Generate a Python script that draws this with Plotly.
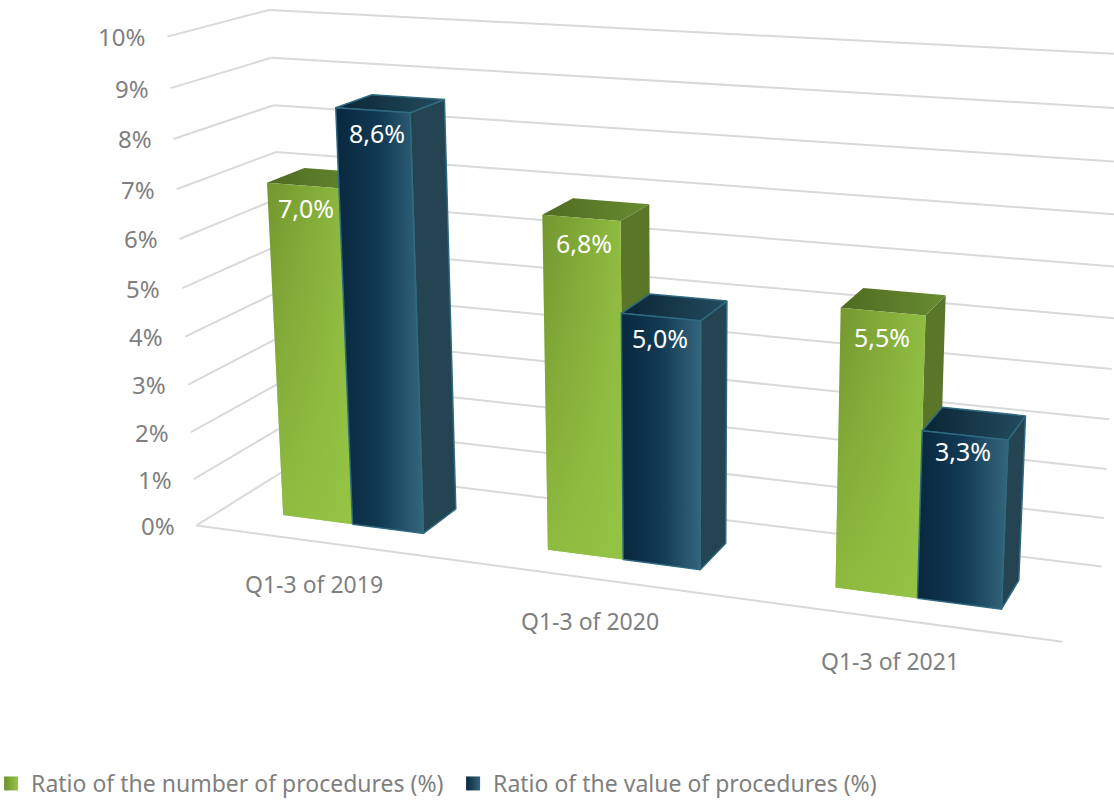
import numpy as np
import plotly.graph_objects as go

categories = ["Q1-3 of 2019", "Q1-3 of 2020", "Q1-3 of 2021"]
series_names = ["Ratio of the number of procedures (%)", "Ratio of the value of procedures (%)"]
number_ratio = [7.0, 6.8, 5.5]
value_ratio = [8.6, 5.0, 3.3]
tick_values = [0, 1, 2, 3, 4, 5, 6, 7, 8, 9, 10]
tick_labels = ["0%", "1%", "2%", "3%", "4%", "5%", "6%", "7%", "8%", "9%", "10%"]
AXIS_MAX = 10

# Calibration of the oblique 3D view: box corners (across, depth, height) -> page pixels
CAL_WORLD = [(0,0,0),(0,0,1),(0,1,1),(0,1,0),(1,0,0),(1,1,0),(1,1,1),(1,1,.3),(0,1,.7),(0,0,.7),(0,0,.1)]
CAL_PX = [(195,526),(170,37),(267,10),(294,465),(1063,640),(1101,568),(1128,54),(1109,420),(275,152),(177,189),(192,480)]
# Small pixel nudges of the value labels, per series and category
LABEL_NUDGE = [[(3,-3),(3,0),(-1,0)], [(4,-2),(-1,-4),(-2,-9)]]

def dlt(W, I):
    A = []
    for (X,Y,Z),(x,y) in zip(W,I):
        A.append([X,Y,Z,1,0,0,0,0,-x*X,-x*Y,-x*Z,-x])
        A.append([0,0,0,0,X,Y,Z,1,-y*X,-y*Y,-y*Z,-y])
    return np.linalg.svd(np.array(A,float))[2][-1].reshape(3,4)
P = dlt(CAL_WORLD, CAL_PX)
def proj(u,v,w):
    q = P @ np.array([u,v,w,1.0])
    return q[0]/q[2], q[1]/q[2]

BAR_W = 0.09; V0, V1 = 0.29, 0.68
centers = [1/6, 1/2, 5/6]
fig = go.Figure()
def poly(pts, **kw):
    xs,ys = zip(*pts)
    fig.add_trace(go.Scatter(x=list(xs)+[xs[0]], y=list(ys)+[ys[0]], mode="lines", fill="toself", hoverinfo="skip", showlegend=False, **kw))
def grad(cs, kind="horizontal"):
    n=len(cs)-1
    return dict(type=kind, colorscale=[[i/n,c] for i,c in enumerate(cs)])
gx,gy=[],[]
lx,ly=[],[]
for t in tick_values:
    w=t/AXIS_MAX
    for a,b,X,Y in ((proj(0,0,w),proj(0,1,w),lx,ly),(proj(0,1,w),proj(1,1,w),gx,gy)):
        X+= [a[0],b[0],None]; Y+=[a[1],b[1],None]
a,b=proj(0,0,0),proj(1,0,0); lx+=[a[0],b[0]]; ly+=[a[1],b[1]]
for X,Y in ((gx,gy),(lx,ly)):
    fig.add_trace(go.Scatter(x=X,y=Y,mode="lines",line=dict(color="#d9d9d9",width=2),hoverinfo="skip",showlegend=False))
styles=[dict(front=["#74962f","#8fbc41"],top=["#4f6b22","#698c31"],side="#5a7729",edge="rgba(0,0,0,0)"),
        dict(front=["#08283d","#123a54","#34667b"],top=["#0a2535","#234c5e"],side="#234450",edge="#2f6a80")]
ann=[]
for i,c in enumerate(centers):
    for s,(vals,st) in enumerate(zip((number_ratio,value_ratio),styles)):
        u0=c-BAR_W+s*BAR_W; u1=u0+BAR_W; w=vals[i]/AXIS_MAX
        line=dict(color=st["edge"],width=1.5)
        poly([proj(u1,V0,0),proj(u1,V1,0),proj(u1,V1,w),proj(u1,V0,w)],fillcolor=st["side"],line=line)
        poly([proj(u0,V0,w),proj(u1,V0,w),proj(u1,V1,w),proj(u0,V1,w)],fillgradient=grad(st["top"]),line=line)
        poly([proj(u0,V0,0),proj(u1,V0,0),proj(u1,V0,w),proj(u0,V0,w)],fillgradient=grad(st["front"]),line=line)
        if s==0:
            poly([proj(u0,V0,0),proj(u1,V0,0),proj(u1,V0,w),proj(u0,V0,w)],fillgradient=grad(["rgba(151,199,69,0.75)","rgba(151,199,69,0)"],"vertical"),line=dict(width=0))
        x,y=proj(c-BAR_W/2+s*BAR_W,V0,w)
        dx,dy=LABEL_NUDGE[s][i]
        ann.append(dict(x=x,y=y,xshift=dx,yshift=-25-dy,text=f"{vals[i]:.1f}".replace(".",",")+"%",showarrow=False,font=dict(color="white",size=25)))
    x,y=proj(c,0,0)
    ann.append(dict(x=x,y=y,yshift=-41,xshift=-12,text=categories[i],showarrow=False,font=dict(color="#7f7f7f",size=23)))
for t,l in zip(tick_values,tick_labels):
    x,y=proj(0,0,t/AXIS_MAX)
    ann.append(dict(x=x,y=y,xshift=-20,xanchor="right",text=l,showarrow=False,font=dict(color="#7f7f7f",size=24)))
for nm,c0,c1 in ((series_names[0],"#6f8f2e","#97c745"),(series_names[1],"#08283d","#34667b")):
    fig.add_trace(go.Scatter(x=[None],y=[None],mode="markers",name=nm,marker=dict(symbol="square",size=14,color=c0,gradient=dict(type="horizontal",color=c1))))
fig.update_layout(width=1114,height=801,margin=dict(l=0,r=0,t=0,b=0,autoexpand=False),paper_bgcolor="white",plot_bgcolor="white",
    font=dict(family="Noto Sans",color="#7f7f7f",size=23),xaxis=dict(visible=False,range=[0,1114],fixedrange=True),yaxis=dict(visible=False,range=[801,0],fixedrange=True),annotations=ann,
    legend=dict(orientation="h",x=-0.008,xanchor="left",y=-0.005,yanchor="bottom",entrywidth=417,entrywidthmode="pixels",font=dict(size=23,color="#7f7f7f")))
fig.write_html("out.html",config=dict(displayModeBar=False),post_script="document.body.style.margin='0';")
